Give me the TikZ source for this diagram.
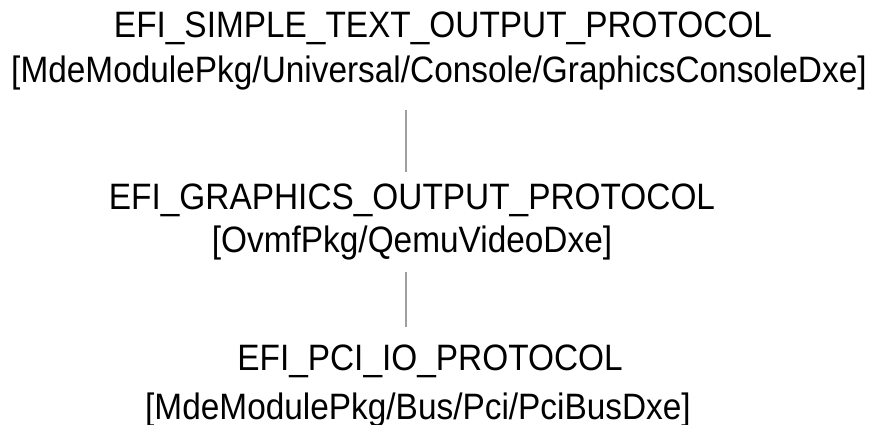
\documentclass[tikz,border=0pt]{standalone}
\usepackage{fontspec}
\setmainfont{Liberation Sans}
\usetikzlibrary{positioning, calc}

\begin{document}
\begin{tikzpicture}[x=1cm, y=1cm,
	                    proto/.style={anchor=base,
	                                  inner sep=0pt,
	                                  yscale=1.1,
	                                  transform shape,
	                                  font=\fontsize{9.5}{11}\selectfont},
	                    link/.style={draw=gray!75,
	                                 line width=0.5pt}]
	\useasboundingbox (0,0) rectangle (8.73,4.25);
	\coordinate (trunk) at (4.06,0);

	\node[proto] (SimpleText) at (4.43,3.87) {EFI\_SIMPLE\_TEXT\_OUTPUT\_PROTOCOL};
	\node[proto] (ConsoleDxe) at (4.39,3.42) {[MdeModulePkg/Universal/Console/GraphicsConsoleDxe]};
	\node[proto] (GraphicsOut) at (4.12,2.15) {EFI\_GRAPHICS\_OUTPUT\_PROTOCOL};
	\node[proto] (VideoDxe) at (4.12,1.72) {[OvmfPkg/QemuVideoDxe]};
	\node[proto] (PciIo) at (4.30,0.54) {EFI\_PCI\_IO\_PROTOCOL};
	\node[proto] (BusDxe) at (4.18,0.05) {[MdeModulePkg/Bus/Pci/PciBusDxe]};

	% stack links
	\draw[link] ($(ConsoleDxe.base -| trunk)+(0,-0.27)$) -- ($(GraphicsOut.base -| trunk)+(0,0.38)$);
	\draw[link] ($(VideoDxe.base -| trunk)+(0,-0.19)$) -- ($(PciIo.base -| trunk)+(0,0.44)$);
\end{tikzpicture}
\end{document}
